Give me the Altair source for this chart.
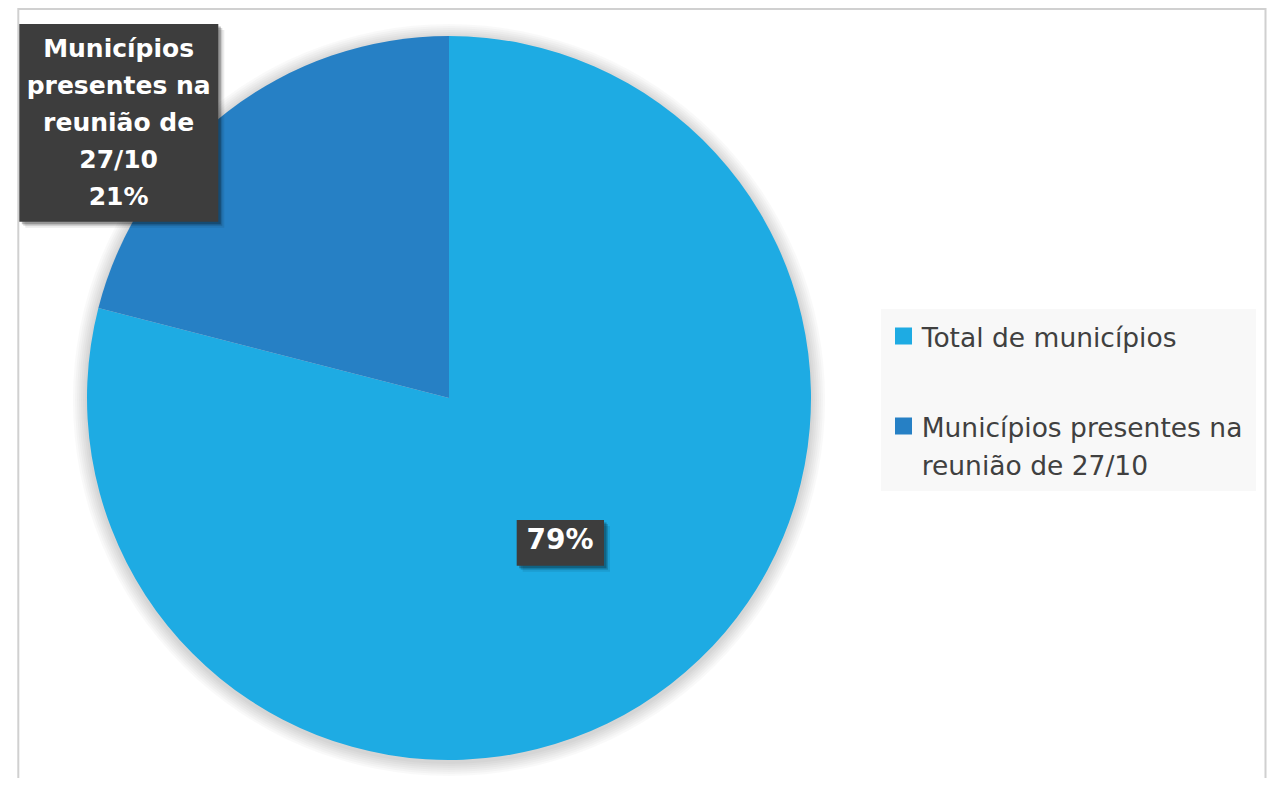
import altair as alt
import pandas as pd
import math

# ---- data ----
categories = ["Total de municípios", "Municípios presentes na reunião de 27/10"]
values = [79, 21]
slice_labels = ["79%", "Municípios\npresentes na\nreunião de\n27/10\n21%"]
legend_labels = ["Total de municípios", "Municípios presentes na\nreunião de 27/10"]
colors = ["#1EABE3", "#2680C5"]

df = pd.DataFrame({
    "category": categories,
    "value": values,
    "order": [0, 1],
    "label": slice_labels,
    "legend": legend_labels,
})
one = pd.DataFrame({"k": [0]})

FONT = "DejaVu Sans"
CX, CY, R = 441, 390, 362
color_scale = alt.Scale(domain=categories, range=colors)
color = alt.Color("category:N", scale=color_scale, legend=None)

# outer border of the chart area
border = alt.Chart(one).mark_rect(fillOpacity=0, stroke="#d0d0d0", strokeWidth=2).encode(
    x=alt.value(10.3), x2=alt.value(1257.5), y=alt.value(1), y2=alt.value(800)
)

# soft shadow around the pie
halos = [
    alt.Chart(one).mark_arc(radius=R + r, theta=0, theta2=2 * math.pi, color="#000000", opacity=0.022).encode(
        x=alt.value(CX), y=alt.value(CY + 2)
    )
    for r in [2, 4, 6, 8, 10, 12, 14]
]

pie = alt.Chart(df).mark_arc(radius=R).encode(
    theta=alt.Theta("value:Q", stack=True),
    color=color,
    order=alt.Order("order:Q"),
    x=alt.value(CX),
    y=alt.value(CY),
)

# label boxes (with shadows)
def box(x1, x2, y1, y2):
    layers = []
    for d, op in [(6, 0.08), (4, 0.15), (2.5, 0.25)]:
        layers.append(alt.Chart(one).mark_rect(color="#000000", opacity=op).encode(
            x=alt.value(x1 + d), x2=alt.value(x2 + d), y=alt.value(y1 + d), y2=alt.value(y2 + d)))
    layers.append(alt.Chart(one).mark_rect(color="#3d3d3d").encode(
        x=alt.value(x1), x2=alt.value(x2), y=alt.value(y1), y2=alt.value(y2)))
    return layers

box_in = box(508.7, 596, 512, 557.7)
box_out = box(11.3, 210.3, 16, 213.7)

label_in = alt.Chart(df).mark_text(
    radius=181, font=FONT, fontSize=28, fontWeight="bold", color="white",
    align="center", baseline="middle",
).encode(
    theta=alt.Theta("value:Q", stack=True),
    order=alt.Order("order:Q"),
    x=alt.value(CX), y=alt.value(CY),
    text=alt.condition(f"datum.category == '{categories[0]}'", "label:N", alt.value("")),
)

label_out = alt.Chart(df).mark_text(
    radius=430, thetaOffset=-0.2164, font=FONT, fontSize=25, fontWeight="bold", color="white",
    align="center", baseline="middle", lineBreak="\n", lineHeight=37, dy=-74,
).encode(
    theta=alt.Theta("value:Q", stack=True),
    order=alt.Order("order:Q"),
    x=alt.value(CX), y=alt.value(CY),
    text=alt.condition(f"datum.category == '{categories[1]}'", "label:N", alt.value("")),
)

# legend
legend_bg = alt.Chart(one).mark_rect(color="#f8f8f8").encode(
    x=alt.value(873), x2=alt.value(1248), y=alt.value(301), y2=alt.value(483)
)
leg_y = alt.Y("category:N", axis=None,
              scale=alt.Scale(type="point", domain=categories, range=[328, 418], padding=0))
leg_sq = alt.Chart(df).mark_square(size=289, opacity=1).encode(
    x=alt.value(895.5), y=leg_y, color=color
)
leg_txt = alt.Chart(df).mark_text(
    align="left", baseline="top", font=FONT, fontSize=26.5, lineHeight=38,
    lineBreak="\n", yOffset=-10.5, color="#404040",
).encode(x=alt.value(913.7), y=leg_y, text="legend:N")

chart = alt.layer(
    border, *halos, pie, *box_in, *box_out, label_in, label_out, legend_bg, leg_sq, leg_txt
).properties(
    width=1259, height=770,
    autosize=alt.AutoSizeParams(type="none"),
    padding=0,
    background="white",
).configure_view(stroke=None)

chart.save("out.html", embed_options={"renderer": "svg", "actions": False})
